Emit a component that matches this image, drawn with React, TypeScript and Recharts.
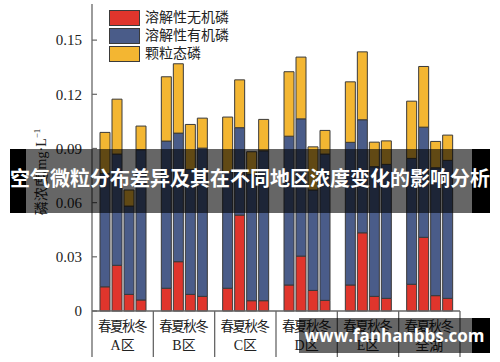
import React from 'react';
import { BarChart, Bar, XAxis, YAxis, Legend, Label } from 'recharts';

// regions and seasons
const regions = ['A区', 'B区', 'C区', 'D区', 'E区', '全湖'];
const seasons = ['春', '夏', '秋', '冬'];

// mg/L, one row per region, columns = spring, summer, autumn, winter
const inorganicP = [
  [0.0134, 0.0253, 0.0092, 0.0061],
  [0.0126, 0.0273, 0.0092, 0.0081],
  [0.0126, 0.0531, 0.0057, 0.0057],
  [0.0144, 0.0304, 0.0114, 0.0059],
  [0.0144, 0.0433, 0.0081, 0.0070],
  [0.0148, 0.0408, 0.0085, 0.0070],
];
const organicP = [
  [0.0628, 0.0616, 0.0489, 0.0832],
  [0.0815, 0.0712, 0.0692, 0.0821],
  [0.0645, 0.0484, 0.0700, 0.0830],
  [0.0824, 0.0760, 0.0556, 0.0810],
  [0.0790, 0.0626, 0.0718, 0.0742],
  [0.0697, 0.0610, 0.0708, 0.0764],
];
const particulateP = [
  [0.0227, 0.0304, 0.0089, 0.0131],
  [0.0356, 0.0384, 0.0249, 0.0166],
  [0.0303, 0.0265, 0.0125, 0.0174],
  [0.0357, 0.0342, 0.0239, 0.0131],
  [0.0335, 0.0376, 0.0136, 0.0130],
  [0.0317, 0.0336, 0.0146, 0.0140],
];

const yTicks = [0, 0.03, 0.06, 0.09, 0.12, 0.15];
const seriesNames = ['溶解性无机磷', '溶解性有机磷', '颗粒态磷'];
const seriesColors = ['#e0352c', '#4a5c89', '#f3b632'];
const seriesKeys = ['ip', 'op', 'pp'];

const title = '空气微粒分布差异及其在不同地区浓度变化的影响分析';
const watermark = 'www.fanhanbbs.com';

const W = 500;
const H = 362;
const PLOT_LEFT = 92;
const PLOT_RIGHT = 460;
const PLOT_TOP = 4;
const PLOT_BOTTOM = 311;
const BAND = (PLOT_RIGHT - PLOT_LEFT) / regions.length;
const BAR_SIZE = 10;
const BAR_GAP = 2;
const AXIS_COLOR = '#666';
const EDGE = '#3a3a3a';

const CJK = '"Liberation Serif", "Noto Sans CJK SC", serif';

const rows = regions.map((region, i) => {
  const row: Record<string, string | number> = { region };
  seasons.forEach((_, j) => {
    row[`ip${j}`] = inorganicP[i][j];
    row[`op${j}`] = organicP[i][j];
    row[`pp${j}`] = particulateP[i][j];
  });
  return row;
});

const RegionTick = (props: any) => {
  const { x, payload, index } = props;
  const half = BAND / 2;
  const step = BAR_SIZE + BAR_GAP;
  return (
    <g>
      <line x1={x - half} x2={x - half} y1={PLOT_BOTTOM} y2={357} stroke={AXIS_COLOR} strokeWidth={1.3} />
      {index === regions.length - 1 && (
        <line x1={x + half} x2={x + half} y1={PLOT_BOTTOM} y2={357} stroke={AXIS_COLOR} strokeWidth={1.3} />
      )}
      {seasons.map((s, j) => (
        <text
          key={s}
          x={x + (j - (seasons.length - 1) / 2) * step}
          y={331}
          textAnchor="middle"
          fontSize={13.5}
          fontFamily={CJK}
          fill="#222"
        >
          {s}
        </text>
      ))}
      <text x={x} y={350} textAnchor="middle" fontSize={14} fontFamily={CJK} fill="#222">
        {payload.value}
      </text>
    </g>
  );
};

const ValueTick = (props: any) => {
  const { y, payload } = props;
  const v = payload.value as number;
  return (
    <g>
      <line x1={PLOT_LEFT} x2={PLOT_LEFT + 5} y1={y} y2={y} stroke={AXIS_COLOR} strokeWidth={1.2} />
      <text
        x={82}
        y={y}
        dy="0.35em"
        textAnchor="end"
        fontSize={15}
        fontFamily='"Liberation Serif", serif'
        fill="#222"
      >
        {v === 0 ? '0' : v.toFixed(2)}
      </text>
    </g>
  );
};

const LegendBox = () => (
  <div style={{ display: 'flex', flexDirection: 'column', gap: 3 }}>
    {seriesNames.map((name, i) => (
      <div key={name} style={{ display: 'flex', alignItems: 'center', height: 15 }}>
        <div
          style={{
            width: 29,
            height: 14,
            background: seriesColors[i],
            border: `1px solid ${EDGE}`,
            marginRight: 5,
          }}
        />
        <span style={{ fontFamily: CJK, fontSize: 14, color: '#222', lineHeight: '15px' }}>{name}</span>
      </div>
    ))}
  </div>
);

const App: React.FC = () => {
  return (
    <div style={{ position: 'absolute', left: 0, top: 0, width: W, height: H, background: '#fff' }}>
      <BarChart
        width={W}
        height={H}
        data={rows}
        margin={{ top: PLOT_TOP, right: W - PLOT_RIGHT, bottom: 0, left: 0 }}
        barSize={BAR_SIZE}
        barGap={BAR_GAP}
      >
        <XAxis
          dataKey="region"
          height={H - PLOT_BOTTOM}
          tickLine={false}
          axisLine={{ stroke: AXIS_COLOR, strokeWidth: 1.3 }}
          tick={<RegionTick />}
          interval={0}
        />
        <XAxis xAxisId="top" orientation="top" dataKey="region" height={0} tick={false} tickLine={false}
          axisLine={{ stroke: AXIS_COLOR, strokeWidth: 1.3 }} />
        <YAxis
          width={PLOT_LEFT}
          domain={[0, 0.17]}
          ticks={yTicks}
          tickLine={false}
          axisLine={{ stroke: AXIS_COLOR, strokeWidth: 1.3 }}
          tick={<ValueTick />}
        >
          <Label
            content={() => (
              <text
                transform="translate(46,172) rotate(-90)"
                textAnchor="middle"
                fontSize={14}
                fontFamily={CJK}
                fill="#222"
              >
                磷浓度/mg·L
                <tspan dy={-6} fontSize={9}>−1</tspan>
              </text>
            )}
          />
        </YAxis>
        <YAxis yAxisId="right" orientation="right" width={0} tick={false} tickLine={false}
          axisLine={{ stroke: AXIS_COLOR, strokeWidth: 1.3 }} />
        <Legend
          layout="vertical"
          align="center"
          verticalAlign="middle"
          content={<LegendBox />}
          wrapperStyle={{ left: 109, top: 10, width: 'auto', height: 'auto' }}
        />
        {seasons.map((s, j) =>
          seriesKeys.map((k, c) => (
            <Bar
              key={`${k}${j}`}
              dataKey={`${k}${j}`}
              name={`${seriesNames[c]}-${s}`}
              stackId={`s${j}`}
              fill={seriesColors[c]}
              stroke={EDGE}
              strokeWidth={1}
              isAnimationActive={false}
              legendType="none"
            />
          ))
        )}
      </BarChart>

      {/* banner overlay */}
      <div style={{ position: 'absolute', left: 26, top: 149, width: 446, height: 64, background: 'rgba(0,0,0,0.6)' }} />
      <div style={{ position: 'absolute', left: 10, top: 149, width: 16, height: 64, background: '#000' }} />
      <div style={{ position: 'absolute', left: 472, top: 149, width: 18, height: 64, background: '#000' }} />
      <div
        style={{
          position: 'absolute', left: 10, top: 149, width: 480, height: 64,
          display: 'flex', alignItems: 'center', justifyContent: 'center',
          color: '#fff', fontFamily: '"Noto Sans CJK SC", sans-serif', fontWeight: 700, fontSize: 20,
          whiteSpace: 'nowrap', marginTop: -4,
        }}
      >
        {title}
      </div>

      {/* watermark */}
      <div style={{ position: 'absolute', left: 299, top: 318, width: 173, height: 35, background: 'rgba(0,0,0,0.6)' }} />
      <div style={{ position: 'absolute', left: 472, top: 318, width: 18, height: 35, background: '#000' }} />
      <div
        style={{
          position: 'absolute', left: 299, top: 318, width: 191, height: 35,
          display: 'flex', alignItems: 'center', justifyContent: 'center',
          color: '#fff', fontFamily: '"Open Sans", sans-serif', fontWeight: 700, fontSize: 17,
          whiteSpace: 'nowrap',
        }}
      >
        {watermark}
      </div>
    </div>
  );
};

export default App;
